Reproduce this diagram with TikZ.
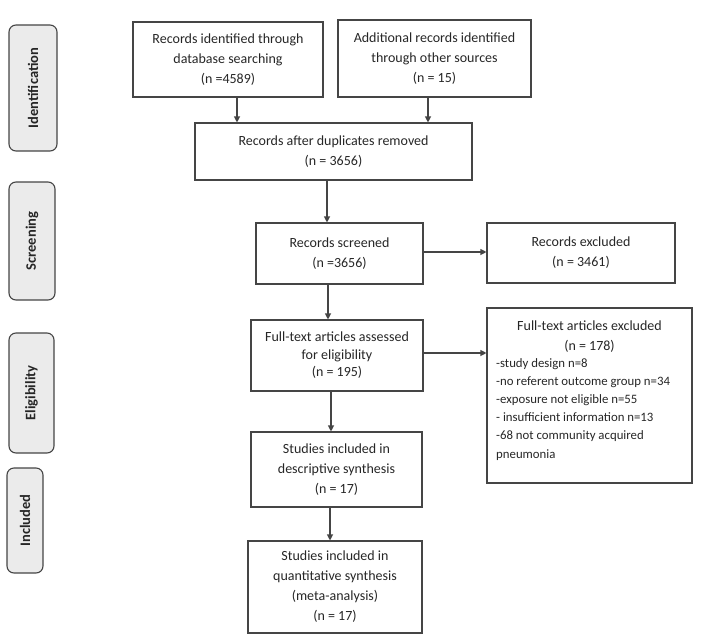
\documentclass[tikz,border=0pt]{standalone}
\usepackage{fontspec}
\setmainfont{Carlito}
\usetikzlibrary{arrows.meta}
\definecolor{linec}{HTML}{454545}
\definecolor{sidefill}{HTML}{EBEBEB}
\begin{document}
\begin{tikzpicture}[x=1pt,y=-1pt,
  box/.style={draw=linec, line width=1.1pt, rectangle, inner sep=0pt, align=center,
    font=\fontsize{14}{20}\selectfont, text=black!85},
  side/.style={draw=linec, line width=1.1pt, rounded corners=7pt, fill=sidefill, inner sep=0pt,
    rotate=90, font=\fontsize{14.5}{16}\selectfont\bfseries, text=black!85},
  arr/.style={draw=linec, line width=1.1pt, -{Triangle[length=6pt,width=6pt]}},
  ltxt/.style={inner sep=0pt, font=\fontsize{12.8}{18.2}\selectfont, text=black!85}
]
\useasboundingbox (0,0) rectangle (703,642);
% side labels
\node[side, minimum width=126pt, minimum height=48pt] (sid) at (33,88) {Identification};
\node[side, minimum width=118pt, minimum height=46pt] (ssc) at (32,241) {Screening};
\node[side, minimum width=120pt, minimum height=45pt] (sel) at (31.5,393) {Eligibility};
\node[side, minimum width=105pt, minimum height=36pt] (sin) at (25,520.5) {Included};
% boxes
\node[box, minimum width=190pt, minimum height=75pt] (A) at (228,59.5) {Records identified through\\database searching\\(n =4589)};
\node[box, minimum width=193pt, minimum height=77pt] (B) at (434.5,58.5) {Additional records identified\\through other sources\\(n = 15)};
\node[box, minimum width=277pt, minimum height=57pt] (C) at (333.5,151.5) {Records after duplicates removed\\(n = 3656)};
\node[box, minimum width=167pt, minimum height=61pt] (D) at (339.5,253.5) {Records screened\\(n =3656)};
\node[box, minimum width=188pt, minimum height=60pt] (E) at (581,253) {Records excluded\\(n = 3461)};
\node[box, minimum width=172pt, minimum height=71pt, font=\fontsize{14}{17.5}\selectfont] (F) at (337,355.5) {Full-text articles assessed\\for eligibility\\(n = 195)};
\node[box, minimum width=205pt, minimum height=175pt] (G) at (589.5,395.5) {};
\node[box, minimum width=171pt, minimum height=75pt] (H) at (336.5,469.5) {Studies included in\\descriptive synthesis\\(n = 17)};
\node[box, minimum width=174pt, minimum height=92pt] (I) at (335,587) {Studies included in\\quantitative synthesis\\(meta-analysis)\\(n = 17)};
% text inside G
\node[ltxt, align=center, font=\fontsize{14}{20}\selectfont] (Gh) at (589.5,337) {Full-text articles excluded\\(n = 178)};
\node[ltxt, align=left, anchor=north west] (Gl) at (496,358) {-study design n=8\\-no referent outcome group n=34\\-exposure not eligible n=55\\- insufficient information n=13\\-68 not community acquired\\pneumonia};
% coordinates for arrows
\coordinate (xa) at (237,0);
\coordinate (xb) at (428,0);
\coordinate (xc) at (327,0);
\coordinate (xd) at (328,0);
\coordinate (xf) at (331,0);
\coordinate (xh) at (330,0);
\coordinate (ye) at (0,252);
\coordinate (yg) at (0,353);
\draw[arr] (A.south -| xa) -- (C.north -| xa);
\draw[arr] (B.south -| xb) -- (C.north -| xb);
\draw[arr] (C.south -| xc) -- (D.north -| xc);
\draw[arr] (D.east |- ye) -- (E.west |- ye);
\draw[arr] (D.south -| xd) -- (F.north -| xd);
\draw[arr] (F.east |- yg) -- (G.west |- yg);
\draw[arr] (F.south -| xf) -- (H.north -| xf);
\draw[arr] (H.south -| xh) -- (I.north -| xh);
\end{tikzpicture}
\end{document}
